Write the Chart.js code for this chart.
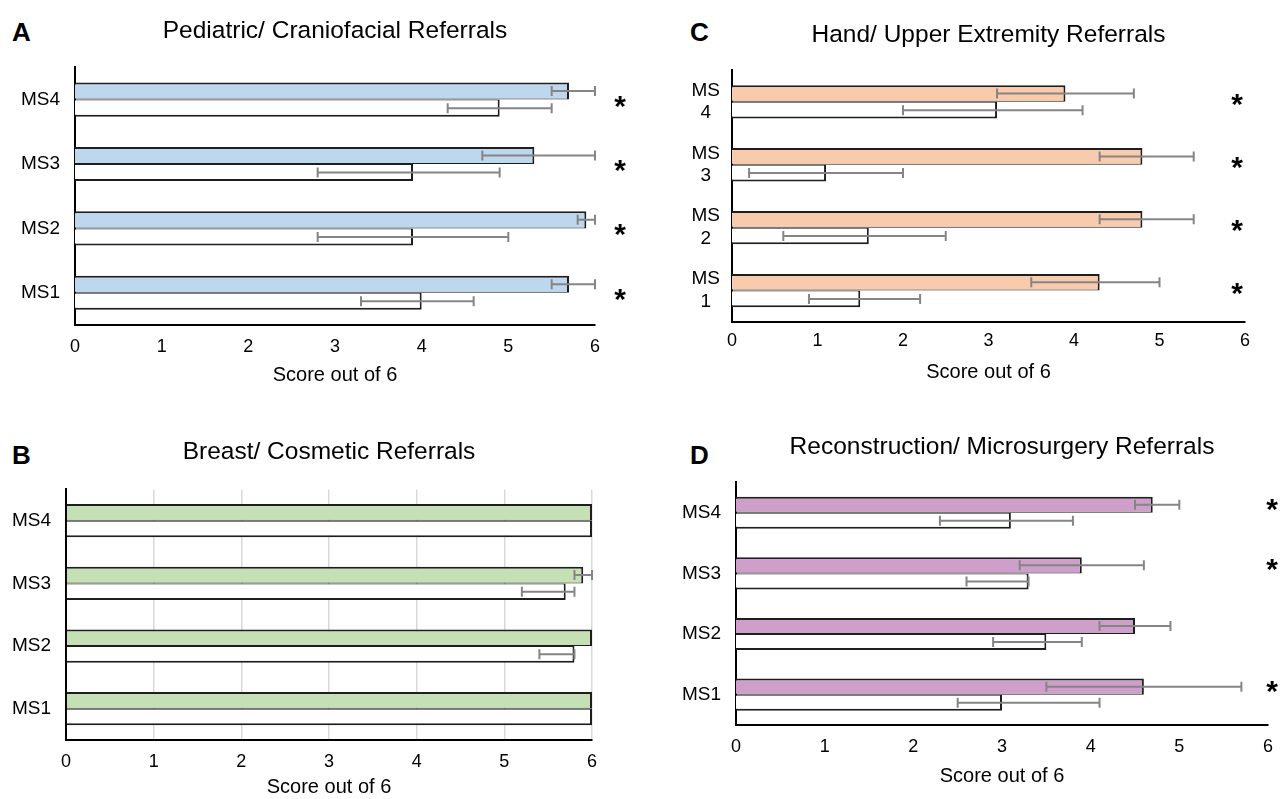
<!DOCTYPE html>
<html>
<head>
<meta charset="utf-8">
<script src="https://cdn.jsdelivr.net/npm/chart.js@4.4.0/dist/chart.umd.min.js"></script>
<style>
  body { margin: 0; background: #fff; width: 1284px; height: 799px; overflow: hidden; position: relative;
         font-family: "Liberation Sans", Arial, sans-serif; }
  .panel { position: absolute; }
  .letter { position: absolute; font-weight: bold; font-size: 26px; line-height: 26px; color: #000; }
</style>
</head>
<body>
<div class="letter" style="left:12px;top:19px">A</div>
<div class="letter" style="left:690px;top:19px">C</div>
<div class="letter" style="left:12px;top:442px">B</div>
<div class="letter" style="left:690px;top:442px">D</div>

<div class="panel" style="left:0;top:0;width:660px;height:400px"><canvas id="chartA"></canvas></div>
<div class="panel" style="left:640px;top:0;width:644px;height:400px"><canvas id="chartC"></canvas></div>
<div class="panel" style="left:0;top:400px;width:660px;height:399px"><canvas id="chartB"></canvas></div>
<div class="panel" style="left:640px;top:400px;width:644px;height:399px"><canvas id="chartD"></canvas></div>

<script>
// categories, top to bottom
const categories = ['MS4', 'MS3', 'MS2', 'MS1'];
const categoriesSplit = [['MS', '4'], ['MS', '3'], ['MS', '2'], ['MS', '1']];
const xTicks = [0, 1, 2, 3, 4, 5, 6];

// A - Pediatric/ Craniofacial
const pedFilled = [5.7, 5.3, 5.9, 5.7];
const pedFilledLow = [5.5, 4.7, 5.8, 5.5];
const pedFilledHigh = [6.0, 6.0, 6.0, 6.0];
const pedOpen = [4.9, 3.9, 3.9, 4.0];
const pedOpenLow = [4.3, 2.8, 2.8, 3.3];
const pedOpenHigh = [5.5, 4.9, 5.0, 4.6];
const pedStars = ['*', '*', '*', '*'];

// B - Breast/ Cosmetic
const breastFilled = [6.0, 5.9, 6.0, 6.0];
const breastFilledLow = [null, 5.8, null, null];
const breastFilledHigh = [null, 6.0, null, null];
const breastOpen = [6.0, 5.7, 5.8, 6.0];
const breastOpenLow = [null, 5.2, 5.4, null];
const breastOpenHigh = [null, 5.8, 5.8, null];
const breastStars = ['', '', '', ''];

// C - Hand/ Upper Extremity
const handFilled = [3.9, 4.8, 4.8, 4.3];
const handFilledLow = [3.1, 4.3, 4.3, 3.5];
const handFilledHigh = [4.7, 5.4, 5.4, 5.0];
const handOpen = [3.1, 1.1, 1.6, 1.5];
const handOpenLow = [2.0, 0.2, 0.6, 0.9];
const handOpenHigh = [4.1, 2.0, 2.5, 2.2];
const handStars = ['*', '*', '*', '*'];

// D - Reconstruction/ Microsurgery
const reconFilled = [4.7, 3.9, 4.5, 4.6];
const reconFilledLow = [4.5, 3.2, 4.1, 3.5];
const reconFilledHigh = [5.0, 4.6, 4.9, 5.7];
const reconOpen = [3.1, 3.3, 3.5, 3.0];
const reconOpenLow = [2.3, 2.6, 2.9, 2.5];
const reconOpenHigh = [3.8, 3.3, 3.9, 4.1];
const reconStars = ['*', '*', '', '*'];

Chart.defaults.font.family = "'Liberation Sans', Arial, sans-serif";
Chart.defaults.color = '#000';

// error bars drawn from errLow / errHigh of each dataset
const errorBars = {
  id: 'errorBars',
  afterDatasetsDraw(chart) {
    const ctx = chart.ctx, xs = chart.scales.x;
    ctx.save();
    ctx.strokeStyle = '#858585';
    ctx.lineWidth = 2;
    chart.data.datasets.forEach((ds, i) => {
      if (!ds.errLow) return;
      chart.getDatasetMeta(i).data.forEach((bar, j) => {
        const lo = ds.errLow[j], hi = ds.errHigh[j];
        if (lo == null) return;
        const x0 = xs.getPixelForValue(lo), x1 = xs.getPixelForValue(hi), y = bar.y;
        ctx.beginPath();
        ctx.moveTo(x0, y); ctx.lineTo(x1, y);
        ctx.moveTo(x0, y - 5); ctx.lineTo(x0, y + 5);
        ctx.moveTo(x1, y - 5); ctx.lineTo(x1, y + 5);
        ctx.stroke();
      });
    });
    ctx.restore();
  }
};

// significance stars to the right of each category
const stars = {
  id: 'stars',
  afterDraw(chart, args, opts) {
    const ctx = chart.ctx, ys = chart.scales.y;
    ctx.save();
    ctx.font = 'bold 30px "Liberation Sans", Arial, sans-serif';
    ctx.fillStyle = '#000';
    ctx.textAlign = 'center';
    const m = ctx.measureText('*');
    const shift = (m.actualBoundingBoxAscent - m.actualBoundingBoxDescent) / 2;
    opts.marks.forEach((s, j) => {
      if (!s) return;
      const cy = ys.getPixelForValue(j) + opts.dy;
      ctx.fillText(s, chart.chartArea.right + opts.dx, cy + shift);
    });
    ctx.restore();
  }
};

function makePanel(id, p) {
  const half = 2;
  new Chart(document.getElementById(id), {
    type: 'bar',
    data: {
      labels: p.labels,
      datasets: [
        { data: p.filled, errLow: p.filledLow, errHigh: p.filledHigh, backgroundColor: p.color,
          borderColor: '#1e1e1e', borderWidth: { top: half, right: half, bottom: 1, left: 0 } },
        { data: p.open, errLow: p.openLow, errHigh: p.openHigh, backgroundColor: '#ffffff',
          borderColor: '#1e1e1e', borderWidth: { top: 1, right: half, bottom: half, left: 0 } }
      ]
    },
    options: {
      indexAxis: 'y',
      responsive: true,
      maintainAspectRatio: false,
      animation: false,
      categoryPercentage: 0.53,
      barPercentage: 1.0,
      layout: { padding: { left: 0, right: p.padRight, top: 0, bottom: 0 } },
      plugins: {
        legend: { display: false },
        tooltip: { enabled: false },
        title: { display: true, text: p.title, fullSize: false, color: '#000',
                 font: { size: 24.5, weight: 'normal' }, padding: { top: p.titleTop, bottom: p.titleBottom } },
        stars: { marks: p.stars, dx: p.starDx, dy: p.starDy }
      },
      scales: {
        x: {
          min: 0, max: 6,
          grid: { display: p.grid, color: '#d9d9d9', lineWidth: 1.5, drawTicks: false },
          border: { display: true, color: '#000', width: 2 },
          ticks: { font: { size: 18 }, padding: p.tickPad, maxRotation: 0 },
          afterBuildTicks: s => { s.ticks = xTicks.map(v => ({ value: v })); },
          title: { display: true, text: 'Score out of 6', color: '#000', font: { size: 20 },
                   padding: { top: 0, bottom: p.xTitleBottom } },
          afterFit: s => { s.height = p.xHeight; }
        },
        y: {
          grid: { display: false, drawTicks: false },
          border: { display: true, color: '#000', width: 2 },
          ticks: { font: { size: 19 }, padding: p.yPad, crossAlign: p.crossAlign || 'near' },
          afterFit: s => { s.width = p.yWidth; }
        }
      }
    },
    plugins: [errorBars, stars]
  });
}

makePanel('chartA', {
  labels: categories, title: 'Pediatric/ Craniofacial Referrals', color: '#bdd7ee',
  filled: pedFilled, filledLow: pedFilledLow, filledHigh: pedFilledHigh,
  open: pedOpen, openLow: pedOpenLow, openHigh: pedOpenHigh, stars: pedStars,
  padRight: 65, titleTop: 17, titleBottom: 21, yWidth: 75, yPad: 15,
  xHeight: 75, tickPad: 11, xTitleBottom: 13, grid: false, starDx: 25, starDy: 2
});

makePanel('chartC', {
  labels: categoriesSplit, title: 'Hand/ Upper Extremity Referrals', color: '#f8cbad',
  filled: handFilled, filledLow: handFilledLow, filledHigh: handFilledHigh,
  open: handOpen, openLow: handOpenLow, openHigh: handOpenHigh, stars: handStars,
  padRight: 39, titleTop: 21, titleBottom: 20, yWidth: 92, yPad: 12, crossAlign: 'center',
  xHeight: 78, tickPad: 8, xTitleBottom: 16, grid: false, starDx: -8, starDy: -2
});

makePanel('chartB', {
  labels: categories, title: 'Breast/ Cosmetic Referrals', color: '#c5e0b4',
  filled: breastFilled, filledLow: breastFilledLow, filledHigh: breastFilledHigh,
  open: breastOpen, openLow: breastOpenLow, openHigh: breastOpenHigh, stars: breastStars,
  padRight: 68, titleTop: 38, titleBottom: 22, yWidth: 66, yPad: 15,
  xHeight: 59, tickPad: 11, xTitleBottom: 0, grid: true, starDx: 20, starDy: 0
});

makePanel('chartD', {
  labels: categories, title: 'Reconstruction/ Microsurgery Referrals', color: '#cd9fc9',
  filled: reconFilled, filledLow: reconFilledLow, filledHigh: reconFilledHigh,
  open: reconOpen, openLow: reconOpenLow, openHigh: reconOpenHigh, stars: reconStars,
  padRight: 6, titleTop: 33, titleBottom: 20, yWidth: 96, yPad: 15,
  xHeight: 74, tickPad: 11, xTitleBottom: 11, grid: false, starDx: 4, starDy: -8
});
</script>
</body>
</html>
